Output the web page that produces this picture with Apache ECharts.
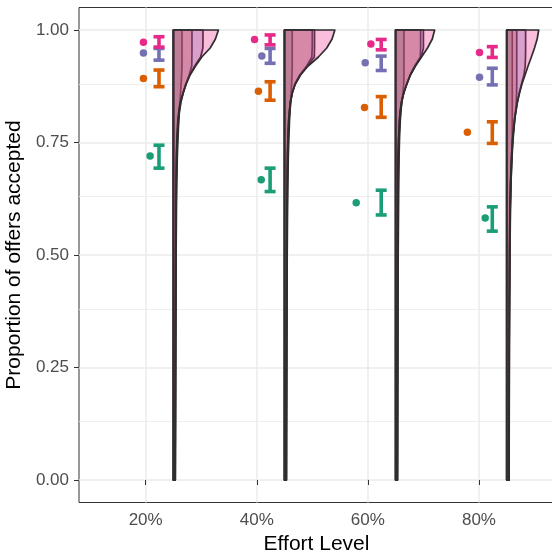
<!DOCTYPE html>
<html><head><meta charset="utf-8">
<script src="https://cdn.jsdelivr.net/npm/echarts@6/dist/echarts.min.js"></script>
<style>html,body{margin:0;padding:0;background:#fff}#chart{width:552px;height:557px}</style>
</head><body><div id="chart"></div>
<script>
// ---------- DATA ----------
const categories = ['20%', '40%', '60%', '80%'];
const categoryPos = [1, 2, 3, 4];
const yTicks = [0, 0.25, 0.5, 0.75, 1];
const yMinorGrid = [0.125, 0.375, 0.625, 0.875];

// group colours (Dark2): green, orange, purple, pink
const groupColors = ['#1B9E77', '#D95F02', '#7570B3', '#E7298A'];

// group means (points)
const greenMean  = [0.720, 0.667, 0.616, 0.582];
const orangeMean = [0.892, 0.864, 0.828, 0.773];
const purpleMean = [0.949, 0.942, 0.927, 0.895];
const pinkMean   = [0.973, 0.979, 0.969, 0.950];

// horizontal jitter of the mean points (x units)
const greenJitter  = [0.040, 0.040, -0.105, 0.056];
const orangeJitter = [-0.020, 0.015, -0.030, -0.104];
const purpleJitter = [-0.020, 0.046, -0.024, 0.005];
const pinkJitter   = [-0.020, -0.020, 0.027, 0.005];

// error bar limits
const greenLow   = [0.693, 0.641, 0.589, 0.553];
const greenHigh  = [0.744, 0.693, 0.644, 0.607];
const orangeLow  = [0.874, 0.844, 0.806, 0.748];
const orangeHigh = [0.911, 0.885, 0.852, 0.796];
const purpleLow  = [0.933, 0.926, 0.910, 0.878];
const purpleHigh = [0.959, 0.959, 0.942, 0.915];
const pinkLow    = [0.962, 0.967, 0.956, 0.939];
const pinkHigh   = [0.985, 0.989, 0.979, 0.963];

// half-violin density widths (x units) at these proportion levels
const violinLevels = [1.00, 0.98, 0.96, 0.94, 0.92, 0.90, 0.88, 0.86, 0.84, 0.82, 0.80, 0.76, 0.72, 0.66, 0.60, 0.50, 0.40, 0.30, 0.20, 0.10, 0.00];

const greenViolin20  = [.077,.077,.077,.077,.077,.074,.069,.064,.058,.053,.048,.041,.035,.030,.027,.024,.022,.020,.019,.018,.017];
const orangeViolin20 = [.167,.167,.167,.166,.165,.142,.112,.088,.068,.055,.046,.036,.030,.026,.024,.022,.020,.019,.018,.017,.016];
const purpleViolin20 = [.266,.266,.265,.245,.192,.146,.112,.086,.064,.051,.042,.033,.028,.025,.023,.021,.020,.019,.018,.017,.016];
const pinkViolin20   = [.405,.378,.331,.255,.199,.150,.115,.087,.062,.049,.040,.031,.027,.024,.022,.020,.019,.018,.017,.016,.015];

const greenViolin40  = [.069,.069,.069,.069,.069,.067,.064,.060,.055,.050,.045,.039,.034,.030,.027,.024,.022,.020,.019,.018,.017];
const orangeViolin40 = [.250,.250,.249,.246,.200,.138,.094,.070,.055,.046,.040,.033,.029,.026,.024,.021,.020,.019,.018,.017,.016];
const purpleViolin40 = [.270,.270,.270,.268,.205,.140,.095,.068,.052,.044,.038,.031,.027,.024,.022,.020,.019,.018,.017,.016,.016];
const pinkViolin40   = [.453,.428,.380,.305,.212,.144,.097,.069,.052,.044,.037,.030,.026,.023,.021,.019,.018,.017,.016,.015,.015];

const greenViolin60  = [.075,.075,.075,.075,.075,.075,.073,.066,.056,.048,.042,.035,.031,.028,.026,.023,.021,.020,.019,.018,.017];
const orangeViolin60 = [.225,.225,.225,.222,.172,.130,.099,.073,.055,.045,.038,.030,.026,.023,.021,.020,.019,.018,.017,.016,.016];
const purpleViolin60 = [.250,.250,.250,.230,.176,.132,.100,.072,.053,.042,.035,.028,.024,.021,.020,.019,.018,.017,.016,.016,.015];
const pinkViolin60   = [.351,.330,.287,.233,.178,.133,.102,.072,.052,.041,.034,.026,.021,.019,.018,.017,.016,.016,.015,.015,.014];

const greenViolin80  = [.050,.050,.050,.050,.050,.050,.050,.050,.050,.050,.050,.049,.045,.038,.033,.029,.026,.024,.023,.022,.021];
const orangeViolin80 = [.090,.090,.090,.090,.090,.090,.090,.089,.086,.080,.072,.058,.048,.038,.032,.028,.025,.023,.022,.021,.020];
const purpleViolin80 = [.170,.170,.170,.169,.166,.155,.133,.113,.096,.083,.071,.055,.045,.035,.030,.026,.024,.022,.021,.020,.019];
const pinkViolin80   = [.288,.274,.250,.222,.192,.165,.137,.115,.096,.082,.069,.053,.043,.033,.028,.024,.022,.021,.020,.019,.018];

// ---------- ASSEMBLY ----------
const groups = [
  {means: greenMean,  jitter: greenJitter,  low: greenLow,  high: greenHigh,  violins: [greenViolin20, greenViolin40, greenViolin60, greenViolin80]},
  {means: orangeMean, jitter: orangeJitter, low: orangeLow, high: orangeHigh, violins: [orangeViolin20, orangeViolin40, orangeViolin60, orangeViolin80]},
  {means: purpleMean, jitter: purpleJitter, low: purpleLow, high: purpleHigh, violins: [purpleViolin20, purpleViolin40, purpleViolin60, purpleViolin80]},
  {means: pinkMean,   jitter: pinkJitter,   low: pinkLow,   high: pinkHigh,   violins: [pinkViolin20, pinkViolin40, pinkViolin60, pinkViolin80]}
];

const VIOLIN_NUDGE = 0.25;
const ERR_NUDGE = 0.12;
const FONT = '"Liberation Sans", Arial, sans-serif';

function rgba(hex, a) {
  const n = parseInt(hex.slice(1), 16);
  return 'rgba(' + (n >> 16 & 255) + ',' + (n >> 8 & 255) + ',' + (n & 255) + ',' + a + ')';
}

const series = [];

// gridlines (drawn first, underneath)
const gridLines = [];
yMinorGrid.forEach(v => gridLines.push({yAxis: v, lineStyle: {color: '#EBEBEB', width: 0.8, type: 'solid'}}));
yTicks.forEach(v => gridLines.push({yAxis: v, lineStyle: {color: '#EBEBEB', width: 1.5, type: 'solid'}}));
categoryPos.forEach(v => gridLines.push({xAxis: v, lineStyle: {color: '#EBEBEB', width: 1.5, type: 'solid'}}));
series.push({
  type: 'line', data: [], z: 0, silent: true,
  markLine: {z: 0, silent: true, symbol: ['none', 'none'], label: {show: false}, animation: false, data: gridLines}
});

// half violins
groups.forEach((g, gi) => {
  series.push({
    type: 'custom', z: 2, silent: true,
    data: categoryPos.map(c => [c, 1]),
    encode: {x: 0, y: 1},
    renderItem: function (params, api) {
      const c = api.value(0);
      const w = g.violins[params.dataIndex];
      const pts = [api.coord([c + VIOLIN_NUDGE, violinLevels[0]])];
      for (let i = 0; i < violinLevels.length; i++) pts.push(api.coord([c + VIOLIN_NUDGE + w[i], violinLevels[i]]));
      pts.push(api.coord([c + VIOLIN_NUDGE, violinLevels[violinLevels.length - 1]]));
      return {type: 'polygon', shape: {points: pts},
        style: {fill: rgba(groupColors[gi], 0.3), stroke: '#2E2E2E', lineWidth: 1.7, lineJoin: 'round'}};
    }
  });
});

// error bars
groups.forEach((g, gi) => {
  series.push({
    type: 'custom', z: 3, silent: true,
    data: categoryPos.map((c, i) => [c + ERR_NUDGE, g.low[i], g.high[i]]),
    encode: {x: 0, y: [1, 2]},
    renderItem: function (params, api) {
      const x = api.value(0);
      const lo = api.coord([x, api.value(1)]);
      const hi = api.coord([x, api.value(2)]);
      const hw = 5.5;
      const st = {stroke: groupColors[gi], lineWidth: 3.6};
      return {type: 'group', children: [
        {type: 'line', shape: {x1: lo[0], y1: lo[1], x2: hi[0], y2: hi[1]}, style: st},
        {type: 'line', shape: {x1: lo[0] - hw, y1: lo[1], x2: lo[0] + hw, y2: lo[1]}, style: st},
        {type: 'line', shape: {x1: hi[0] - hw, y1: hi[1], x2: hi[0] + hw, y2: hi[1]}, style: st}
      ]};
    }
  });
});

// mean points
groups.forEach((g, gi) => {
  series.push({
    type: 'scatter', z: 4, silent: true, symbol: 'circle', symbolSize: 7.5,
    itemStyle: {color: groupColors[gi], opacity: 1},
    data: categoryPos.map((c, i) => [c + g.jitter[i], g.means[i]])
  });
});

const chart = echarts.init(document.getElementById('chart'), null, {renderer: 'canvas'});
chart.setOption({
  animation: false,
  backgroundColor: '#ffffff',
  grid: {left: 79, top: 7.5, width: 475, height: 495, show: true, borderColor: '#333333', borderWidth: 1,
    backgroundColor: 'transparent', containLabel: false, outerBoundsMode: 'none'},
  xAxis: {
    type: 'value', min: 0.4, max: 0.4 + 475 / 111.1,
    name: 'Effort Level', nameLocation: 'middle', nameGap: 27,
    nameTextStyle: {fontFamily: FONT, fontSize: 21, color: '#000000'},
    axisLine: {show: false},
    axisTick: {show: true, customValues: categoryPos, length: 5, lineStyle: {color: '#333333', width: 1}},
    axisLabel: {show: true, customValues: categoryPos, margin: 9, fontFamily: FONT, fontSize: 17, color: '#4D4D4D',
      formatter: v => categories[Math.round(v) - 1]},
    splitLine: {show: false}
  },
  yAxis: {
    type: 'value', min: -0.05, max: 1.05,
    name: 'Proportion of offers accepted', nameLocation: 'middle', nameGap: 42, nameRotate: 90,
    nameTextStyle: {fontFamily: FONT, fontSize: 21, color: '#000000'},
    axisLine: {show: false},
    axisTick: {show: true, customValues: yTicks, length: 5, lineStyle: {color: '#333333', width: 1}},
    axisLabel: {show: true, customValues: yTicks, margin: 10, fontFamily: FONT, fontSize: 17, color: '#4D4D4D',
      formatter: v => v.toFixed(2)},
    splitLine: {show: false}
  },
  series: series
});
</script></body></html>
